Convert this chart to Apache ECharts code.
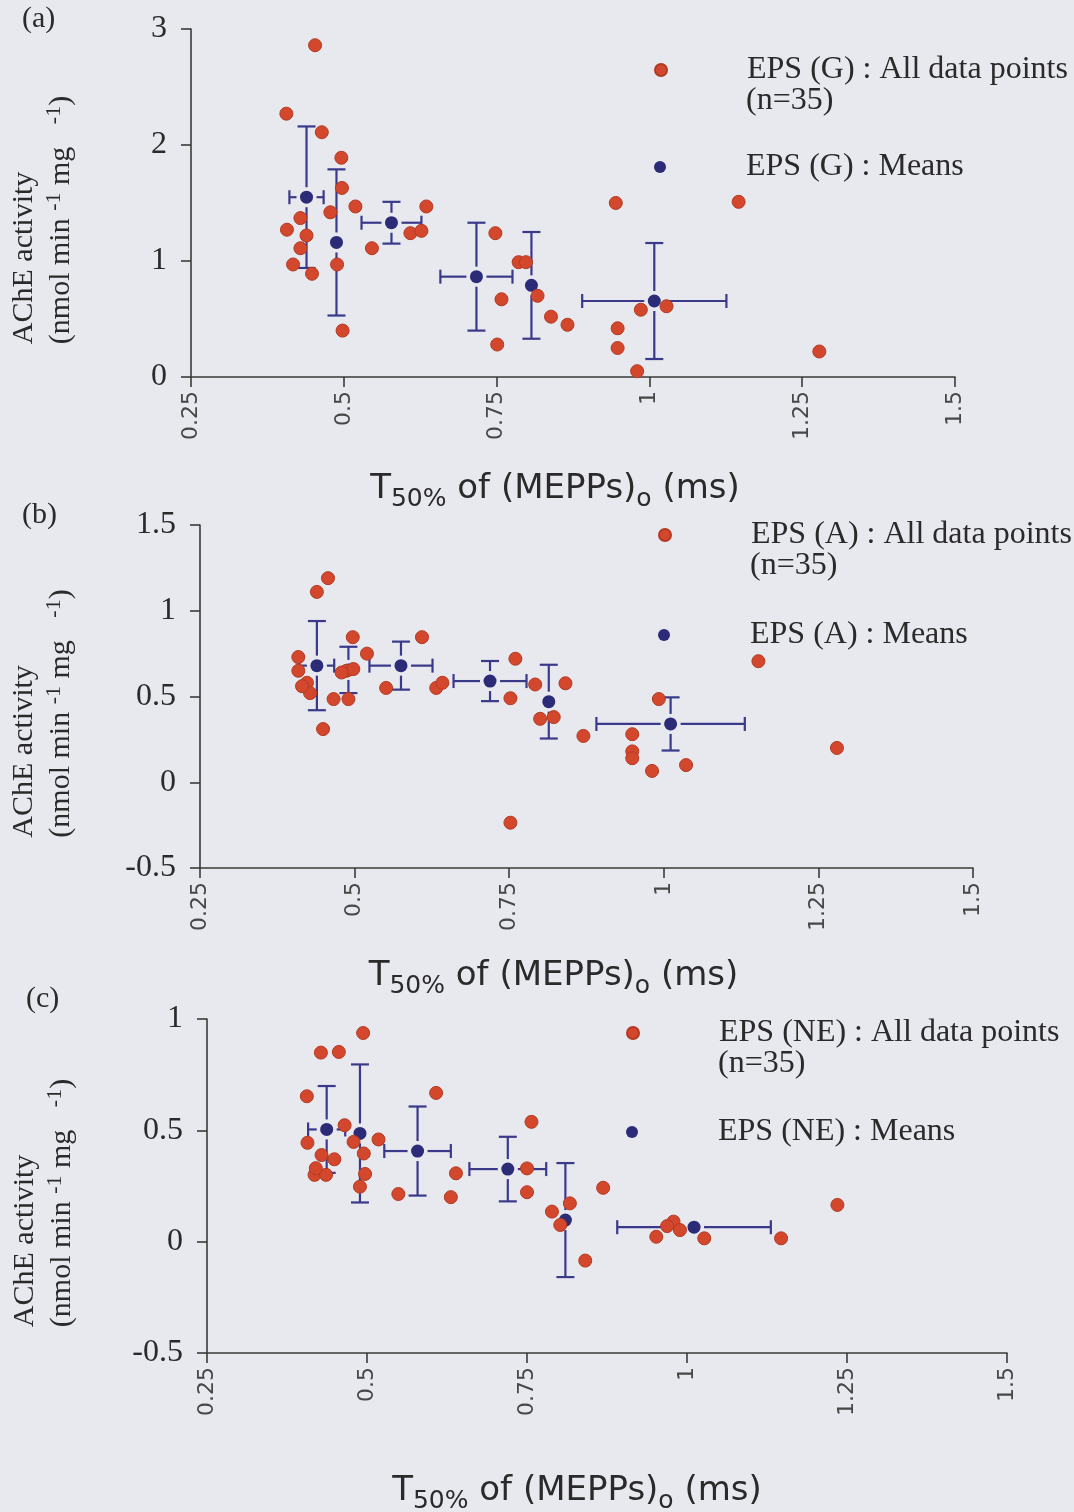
<!DOCTYPE html>
<html>
<head>
<meta charset="utf-8">
<title>AChE activity vs T50% of (MEPPs)o</title>
<script src="https://cdn.jsdelivr.net/npm/echarts@6/dist/echarts.min.js"></script>
<style>
  html, body { margin: 0; padding: 0; background: #e8e8ef; }
  #chart { width: 1074px; height: 1512px; }
</style>
</head>
<body>
<div id="chart"></div>
<script>
// ---- data: [T50% (ms), AChE activity] ----
// (a) EPS (G)
const epsG_all = [
  [0.453, 2.86], [0.406, 2.27], [0.464, 2.11], [0.496, 1.89], [0.497, 1.63],
  [0.519, 1.47], [0.478, 1.42], [0.429, 1.37], [0.407, 1.27], [0.439, 1.22],
  [0.429, 1.11], [0.417, 0.97], [0.448, 0.89], [0.489, 0.97], [0.498, 0.40],
  [0.546, 1.11], [0.635, 1.47], [0.609, 1.24], [0.627, 1.26], [0.945, 1.50],
  [1.146, 1.51], [0.748, 1.24], [0.786, 0.99], [0.798, 0.99], [0.817, 0.70],
  [0.758, 0.67], [0.839, 0.52], [0.866, 0.45], [0.751, 0.28], [0.948, 0.42],
  [0.948, 0.25], [0.986, 0.58], [1.028, 0.61], [0.980, 0.05], [1.278, 0.22]
];
// means: [x, y, x error, y error]
const epsG_means = [
  [0.439, 1.55, 0.028, 0.61],
  [0.488, 1.16, 0, 0.63],
  [0.578, 1.33, 0.049, 0.18],
  [0.717, 0.865, 0.059, 0.465],
  [0.807, 0.79, 0, 0.46],
  [1.008, 0.655, 0.118, 0.50]
];

// (b) EPS (A)
const epsA_all = [
  [0.457, 1.19], [0.439, 1.11], [0.497, 0.846], [0.520, 0.75], [0.409, 0.73],
  [0.409, 0.65], [0.423, 0.58], [0.428, 0.52], [0.487, 0.65], [0.498, 0.66],
  [0.479, 0.64], [0.466, 0.485], [0.490, 0.485], [0.449, 0.31], [0.609, 0.846],
  [0.551, 0.55], [0.632, 0.55], [0.642, 0.58], [1.153, 0.706], [0.760, 0.72],
  [0.752, 0.49], [0.792, 0.57], [0.841, 0.577], [0.800, 0.37], [0.822, 0.38],
  [0.870, 0.27], [0.949, 0.28], [0.949, 0.18], [0.949, 0.14], [0.981, 0.066],
  [1.036, 0.10], [0.992, 0.485], [0.752, -0.236], [1.280, 0.20], [0.415, 0.56]
];
const epsA_means = [
  [0.439, 0.68, 0.028, 0.26],
  [0.490, 0.655, 0, 0.135],
  [0.575, 0.68, 0.051, 0.14],
  [0.719, 0.59, 0.059, 0.117],
  [0.814, 0.47, 0, 0.215],
  [1.011, 0.34, 0.12, 0.155]
];

// (c) EPS (NE)
const epsNE_all = [
  [0.494, 0.937], [0.428, 0.849], [0.456, 0.852], [0.406, 0.653], [0.608, 0.668],
  [0.465, 0.523], [0.407, 0.444], [0.479, 0.448], [0.518, 0.459], [0.429, 0.389],
  [0.449, 0.37], [0.495, 0.396], [0.418, 0.30], [0.436, 0.30], [0.497, 0.304],
  [0.489, 0.247], [0.549, 0.214], [0.639, 0.307], [0.631, 0.20], [0.757, 0.538],
  [0.750, 0.329], [0.750, 0.222], [0.869, 0.242], [0.817, 0.172], [0.789, 0.135],
  [0.802, 0.075], [0.841, -0.085], [0.979, 0.09], [0.989, 0.052], [0.952, 0.022],
  [1.027, 0.015], [1.147, 0.015], [1.235, 0.165], [0.969, 0.07], [0.420, 0.33]
];
const epsNE_means = [
  [0.437, 0.504, 0.029, 0.195],
  [0.489, 0.486, 0, 0.31],
  [0.579, 0.407, 0.052, 0.20],
  [0.720, 0.326, 0.06, 0.145],
  [0.810, 0.097, 0, 0.256],
  [1.011, 0.065, 0.12, 0]
];

const groupNames = ['EPS (G)', 'EPS (A)', 'EPS (NE)'];
const panelTags = ['(a)', '(b)', '(c)'];
const sampleNote = '(n=35)';
const allSets = [epsG_all, epsA_all, epsNE_all];
const meanSets = [epsG_means, epsA_means, epsNE_means];
const xRange = [0.25, 1.5, 0.25];
const yRanges = [[0, 3, 1], [-0.5, 1.5, 0.5], [-0.5, 1, 0.5]];

// ---- styling / layout ----
const SERIF = '"Liberation Serif", "Times New Roman", serif';
const SANS = '"DejaVu Sans", Verdana, sans-serif';
const INK = '#2a2a2a';
const AXIS = '#3a3a3a';
const RED = '#d3482d';
const RED_EDGE = '#b23a22';
const BLUE = '#2c2b78';
const BAR = '#3a398a';

const layout = [
  { grid: { left: 191, top: 29, width: 764, height: 348 }, yNameGap: 111, xNameGap: 89, xNamePad: 36,
    tag: { left: 22, top: 4 }, legendLeft: 654, legendTops: [54, 151], noteTop: 85 },
  { grid: { left: 200, top: 525, width: 773, height: 343 }, yNameGap: 120, xNameGap: 85, xNamePad: 66,
    tag: { left: 22, top: 500 }, legendLeft: 658, legendTops: [519, 619], noteTop: 550 },
  { grid: { left: 207, top: 1019, width: 800, height: 334 }, yNameGap: 126, xNameGap: 115, xNamePad: 60,
    tag: { left: 26, top: 984 }, legendLeft: 626, legendTops: [1017, 1116], noteTop: 1048 }
];

// error bars: vertical and horizontal whiskers with end caps, leaving a small gap around the mean marker
function renderErrorBars(params, api) {
  const x = api.value(0), y = api.value(1), ex = api.value(2), ey = api.value(3);
  const c = api.coord([x, y]);
  const style = { stroke: BAR, lineWidth: 2.2, fill: null };
  const gap = 10, capV = 9, capH = 7;
  const parts = [];
  const seg = (x1, y1, x2, y2) => parts.push({ type: 'line', shape: { x1, y1, x2, y2 }, style });
  if (ey > 0) {
    const yt = api.coord([x, y + ey])[1];
    const yb = api.coord([x, y - ey])[1];
    if (c[1] - gap > yt) seg(c[0], yt, c[0], c[1] - gap);
    if (c[1] + gap < yb) seg(c[0], c[1] + gap, c[0], yb);
    seg(c[0] - capV, yt, c[0] + capV, yt);
    seg(c[0] - capV, yb, c[0] + capV, yb);
  }
  if (ex > 0) {
    const xl = api.coord([x - ex, y])[0];
    const xr = api.coord([x + ex, y])[0];
    if (c[0] - gap > xl) seg(xl, c[1], c[0] - gap, c[1]);
    if (c[0] + gap < xr) seg(c[0] + gap, c[1], xr, c[1]);
    seg(xl, c[1] - capH, xl, c[1] + capH);
    seg(xr, c[1] - capH, xr, c[1] + capH);
  }
  return { type: 'group', children: parts };
}

const xName = '{t|T}{s|50%}{t| of (MEPPs)}{s|o}{t| (ms)}';
const yName = '{a|AChE activity}\n{b|(nmol min }{s|-1}{b| mg   }{s|-1}{b|)}';

const option = {
  backgroundColor: '#e8e8ef',
  animation: false,
  title: [], grid: [], xAxis: [], yAxis: [], legend: [], series: []
};

const legendText = { fontFamily: SERIF, fontSize: 32, lineHeight: 32, color: INK, padding: [0, 0, 0, 75] };

layout.forEach((L, i) => {
  const g = groupNames[i];
  const allName = g + ' : All data points';
  const meanName = g + ' : Means';
  const yr = yRanges[i];

  option.title.push({
    text: panelTags[i], left: L.tag.left, top: L.tag.top, padding: 0,
    textStyle: { fontFamily: SERIF, fontSize: 30, fontWeight: 'normal', color: INK }
  });
  // sample size note under the first legend entry
  option.title.push({
    text: sampleNote, left: L.legendLeft + 92, top: L.noteTop, padding: 0,
    textStyle: { fontFamily: SERIF, fontSize: 32, lineHeight: 32, fontWeight: 'normal', color: INK }
  });

  option.grid.push(Object.assign({ outerBoundsMode: 'none', containLabel: false }, L.grid));

  option.xAxis.push({
    gridIndex: i, type: 'value', min: xRange[0], max: xRange[1], interval: xRange[2],
    axisLine: { show: true, onZero: false, lineStyle: { color: AXIS, width: 1.6 } },
    axisTick: { show: true, inside: false, length: 10, lineStyle: { color: AXIS, width: 1.6 } },
    splitLine: { show: false },
    axisLabel: { rotate: 90, margin: 14, fontFamily: SANS, fontSize: 22, color: '#474747' },
    name: xName, nameLocation: 'middle', nameGap: L.xNameGap, nameMoveOverlap: false,
    nameTextStyle: {
      padding: [0, L.xNamePad, 0, 0],
      rich: {
        t: { fontFamily: SANS, fontSize: 34, color: INK, lineHeight: 46 },
        s: { fontFamily: SANS, fontSize: 25, color: INK, lineHeight: 28, verticalAlign: 'bottom' }
      }
    }
  });

  option.yAxis.push({
    gridIndex: i, type: 'value', min: yr[0], max: yr[1], interval: yr[2],
    axisLine: { show: true, onZero: false, lineStyle: { color: AXIS, width: 1.6 } },
    axisTick: { show: true, inside: false, length: 10, lineStyle: { color: AXIS, width: 1.6 } },
    splitLine: { show: false },
    axisLabel: { margin: 24, fontFamily: SERIF, fontSize: 32, color: INK },
    name: yName, nameLocation: 'middle', nameGap: L.yNameGap, nameMoveOverlap: false,
    nameTextStyle: {
      padding: [0, 34, 0, 0],
      rich: {
        a: { fontFamily: SERIF, fontSize: 30, color: INK, lineHeight: 37, align: 'left' },
        b: { fontFamily: SERIF, fontSize: 30, color: INK, lineHeight: 37, align: 'left' },
        s: { fontFamily: SERIF, fontSize: 22, color: INK, lineHeight: 22, align: 'left', verticalAlign: 'top' }
      }
    }
  });

  option.legend.push({
    left: L.legendLeft, top: L.legendTops[0], padding: 0, orient: 'vertical', selectedMode: false,
    icon: 'circle', itemWidth: 12, itemHeight: 12, data: [allName], textStyle: legendText
  });
  option.legend.push({
    left: L.legendLeft, top: L.legendTops[1], padding: 0, orient: 'vertical', selectedMode: false,
    icon: 'circle', itemWidth: 12, itemHeight: 12, data: [meanName], textStyle: legendText
  });

  option.series.push({
    type: 'custom', name: g + ' : SEM', xAxisIndex: i, yAxisIndex: i,
    data: meanSets[i], encode: { x: 0, y: 1 }, renderItem: renderErrorBars, z: 2, silent: true
  });
  option.series.push({
    type: 'scatter', name: meanName, xAxisIndex: i, yAxisIndex: i,
    data: meanSets[i].map(m => [m[0], m[1]]),
    symbol: 'circle', symbolSize: 13, itemStyle: { color: BLUE, opacity: 1 }, z: 3
  });
  option.series.push({
    type: 'scatter', name: allName, xAxisIndex: i, yAxisIndex: i,
    data: allSets[i],
    symbol: 'circle', symbolSize: 13,
    itemStyle: { color: RED, borderColor: RED_EDGE, borderWidth: 1, opacity: 1 }, z: 4
  });
});

const chart = echarts.init(document.getElementById('chart'), null, { renderer: 'canvas' });
chart.setOption(option);
</script>
</body>
</html>
